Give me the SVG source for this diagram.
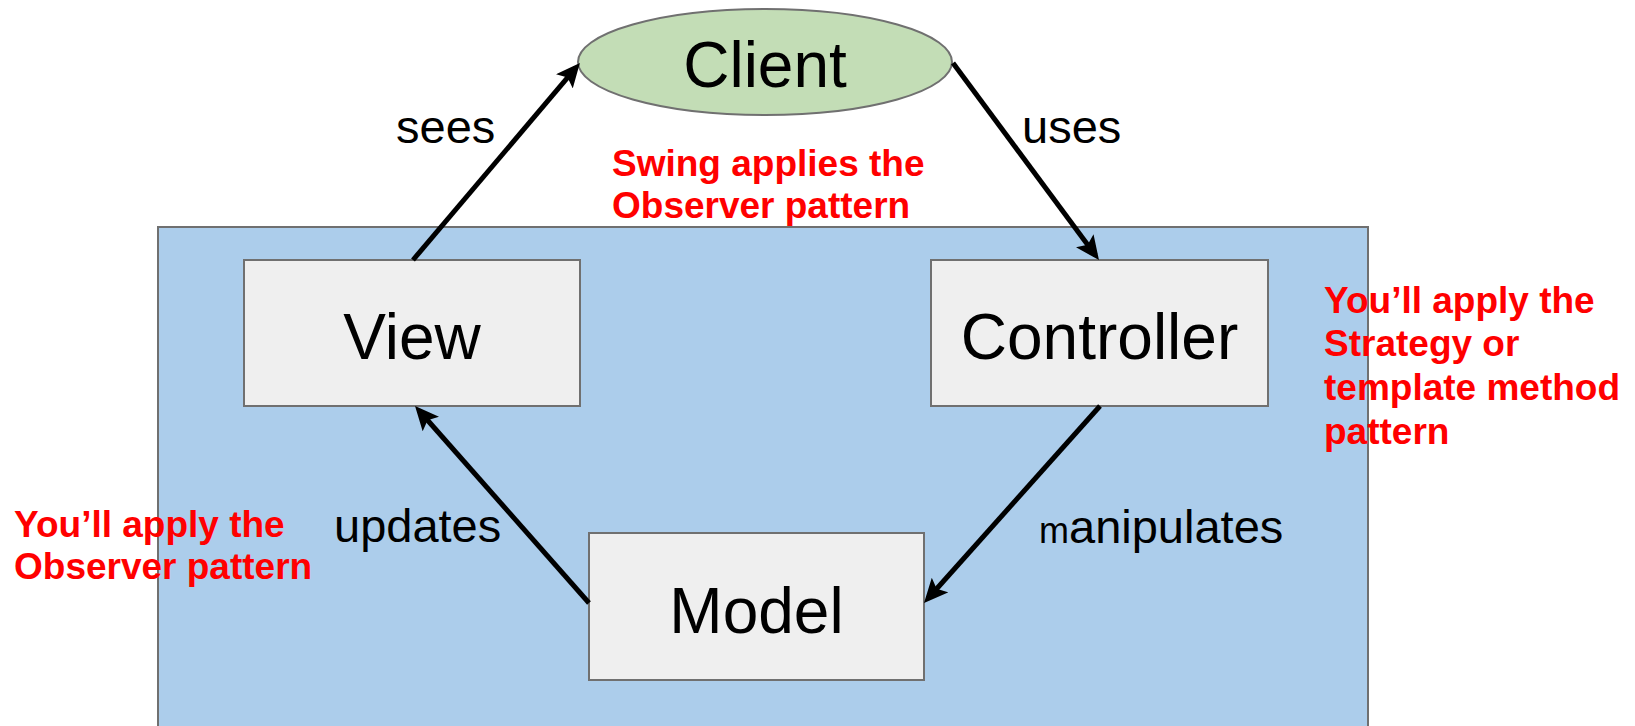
<svg xmlns="http://www.w3.org/2000/svg" width="1635" height="726" viewBox="0 0 1635 726">
<style>
.bg{fill:#fff}
.frame{fill:#accdeb;stroke:#707070;stroke-width:2}
.box{fill:#efefef;stroke:#707070;stroke-width:2}
.ell{fill:#c3ddb6;stroke:#707070;stroke-width:2}
.big{font-family:"Liberation Sans",Arial,sans-serif;font-size:64px;fill:#000;text-anchor:middle}
.lbl{font-family:"Liberation Sans",Arial,sans-serif;font-size:47px;fill:#000}
.note{font-family:"Liberation Sans",Arial,sans-serif;font-size:37px;font-weight:bold;fill:#ff0000}
.conn{stroke:#000;stroke-width:5;fill:none;marker-end:url(#arr)}
</style>
<defs>
<marker id="arr" markerUnits="userSpaceOnUse" markerWidth="26" markerHeight="22" viewBox="0 0 26 22" refX="18" refY="11" orient="auto">
<path d="M0,0 L24,11 L0,22 L5,11 Z" fill="#000"/>
</marker>
</defs>
<rect class="bg" x="0" y="0" width="1635" height="726"/>
<g id="frame">
<rect class="frame" x="158" y="227" width="1210" height="510"/>
</g>
<g id="client">
<ellipse class="ell" cx="765" cy="62" rx="187" ry="53"/>
<text class="big" x="765" y="87">Client</text>
</g>
<g id="view">
<rect class="box" x="244" y="260" width="336" height="146"/>
<text class="big" x="412" y="359">View</text>
</g>
<g id="controller">
<rect class="box" x="931" y="260" width="337" height="146"/>
<text class="big" x="1099.5" y="359">Controller</text>
</g>
<g id="model">
<rect class="box" x="589" y="533" width="335" height="147"/>
<text class="big" x="756.5" y="633">Model</text>
</g>
<g id="connectors">
<line class="conn" x1="413" y1="260" x2="576" y2="67.6"/>
<line class="conn" x1="953" y1="63" x2="1095.4" y2="255.2"/>
<line class="conn" x1="1100" y1="406" x2="928" y2="598.5"/>
<line class="conn" x1="589" y1="603" x2="419" y2="410.5"/>
</g>
<g id="labels">
<text class="lbl" x="396" y="143">sees</text>
<text class="lbl" x="1022" y="143">uses</text>
<text class="lbl" x="334" y="542">updates</text>
<text class="lbl" x="1039" y="543"><tspan font-size="36px">m</tspan>anipulates</text>
</g>
<g id="notes">
<text class="note" x="612" y="176">Swing applies the</text>
<text class="note" x="612" y="218">Observer pattern</text>
<text class="note" x="1324" y="313">You’ll apply the</text>
<text class="note" x="1324" y="356">Strategy or</text>
<text class="note" x="1324" y="400">template method</text>
<text class="note" x="1324" y="444">pattern</text>
<text class="note" x="14" y="537">You’ll apply the</text>
<text class="note" x="14" y="579">Observer pattern</text>
</g>
</svg>
